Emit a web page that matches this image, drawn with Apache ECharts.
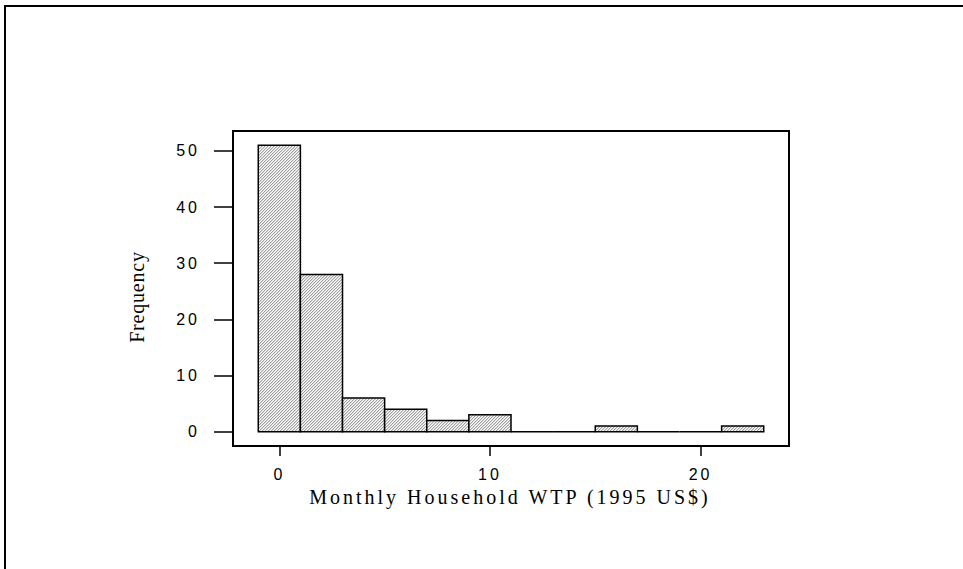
<!DOCTYPE html>
<html><head><meta charset="utf-8">
<script src="https://cdn.jsdelivr.net/npm/echarts@6/dist/echarts.min.js"></script>
<style>
html,body{margin:0;padding:0;background:#fff}
#c{width:963px;height:569px}
#c svg text{letter-spacing:3px}
#c svg text[style*="Times"]{letter-spacing:0.8px}
</style>
</head><body><div id="c"></div>
<script>
const binStarts = [-1, 1, 3, 5, 7, 9, 11, 13, 15, 17, 19, 21];
const binEnds   = [ 1, 3, 5, 7, 9, 11, 13, 15, 17, 19, 21, 23];
const counts    = [51, 28, 6, 4, 2, 3, 0, 0, 1, 0, 0, 1];
const xTicks = [0, 10, 20];
const yTicks = [0, 10, 20, 30, 40, 50];
const xTitle = 'Monthly Household WTP (1995 US$)';
const yTitle = 'Frequency';

function hatch() {
  const c = document.createElement('canvas');
  c.width = 3; c.height = 3;
  const g = c.getContext('2d');
  g.fillStyle = '#ffffff'; g.fillRect(0, 0, 3, 3);
  for (let i = 0; i < 3; i++) {
    g.fillStyle = '#a0a0a0'; g.fillRect(i, 2 - i, 1, 1);
    g.fillStyle = '#d8d8d8'; g.fillRect((i + 1) % 3, 2 - i, 1, 1);
  }
  return c.toDataURL();
}
const pattern = { image: hatch(), repeat: 'repeat' };

const data = binStarts.map((s, i) => [s, binEnds[i], counts[i]]);

const chart = echarts.init(document.getElementById('c'), null, { renderer: 'svg' });
chart.setOption({
  animation: false,
  backgroundColor: '#fff',
  grid: { left: 233, right: 174, top: 131, bottom: 123, show: true, borderColor: '#000', borderWidth: 2, backgroundColor: 'transparent' },
  xAxis: {
    type: 'value', min: -2.2, max: 24.2,
    axisLine: { show: false, onZero: false },
    splitLine: { show: false },
    axisTick: { show: true, customValues: xTicks, length: 10, lineStyle: { color: '#000', width: 1.5 } },
    axisLabel: { customValues: xTicks, margin: 20, fontSize: 16, color: '#000', fontFamily: 'Liberation Sans, Arial, sans-serif' }
  },
  yAxis: {
    type: 'value', min: -2.55, max: 53.55,
    axisLine: { show: false, onZero: false },
    splitLine: { show: false },
    axisTick: { show: true, customValues: yTicks, length: 19, lineStyle: { color: '#000', width: 1.5 } },
    axisLabel: { customValues: yTicks, margin: 33, fontSize: 16, color: '#000', fontFamily: 'Liberation Sans, Arial, sans-serif' }
  },
  series: [{
    type: 'custom',
    data: data,
    encode: { x: [0, 1], y: 2 },
    renderItem: function (params, api) {
      const p0 = api.coord([api.value(0), api.value(2)]);
      const p1 = api.coord([api.value(1), 0]);
      return {
        type: 'rect',
        shape: { x: p0[0], y: p0[1], width: p1[0] - p0[0], height: p1[1] - p0[1] },
        style: { fill: pattern, stroke: '#000', lineWidth: 1.5 }
      };
    }
  }],
  graphic: [{
    type: 'polyline',
    shape: { points: [[5, 569], [5, 6], [963, 6]] },
    style: { stroke: '#000', lineWidth: 2, fill: null }
  }, {
    type: 'text',
    x: 510, y: 497,
    style: { text: xTitle, fontSize: 20, fill: '#000', fontFamily: 'Liberation Serif, serif', align: 'center', verticalAlign: 'middle' }
  }, {
    type: 'text',
    x: 137, y: 297, rotation: Math.PI / 2,
    style: { text: yTitle, fontSize: 20, fill: '#000', fontFamily: 'Times New Roman, Liberation Serif, serif', align: 'center', verticalAlign: 'middle' }
  }]
});
</script>
</body></html>
